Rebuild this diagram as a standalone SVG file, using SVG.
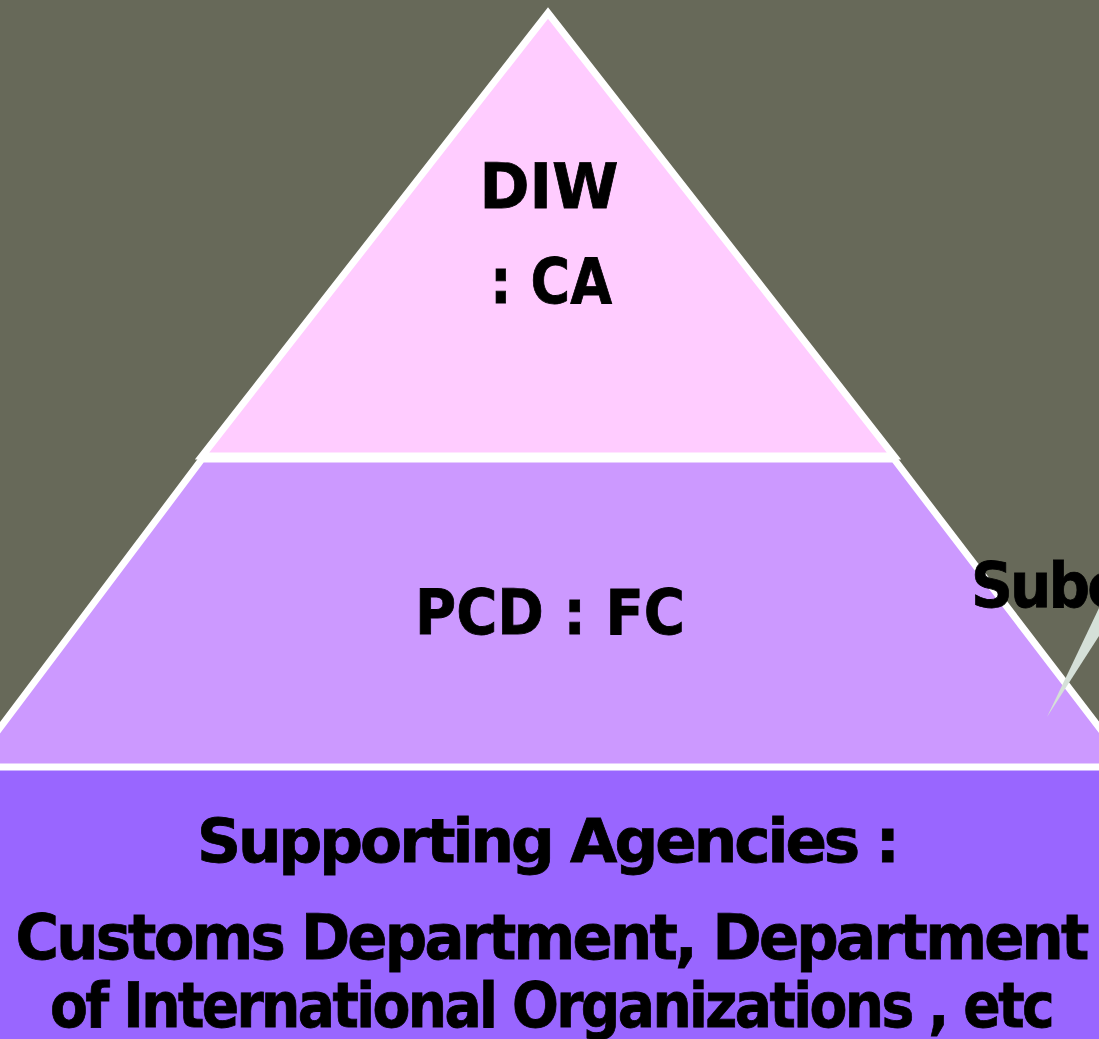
<svg xmlns="http://www.w3.org/2000/svg" width="1099" height="1039" viewBox="0 0 1099 1039">
<style>
.t{font-family:"DejaVu Sans","Verdana",sans-serif;font-weight:bold;fill:#000;stroke:#000;stroke-width:0.8;text-anchor:middle;}
.tight{letter-spacing:-3px;}
.edge{stroke:#fff;stroke-width:7;stroke-linejoin:miter;}
</style>
<rect width="1099" height="1039" fill="#676959"/>
<g id="middle">
<polygon class="edge" points="202,459 894,459 1140,781 -40,781" fill="#CC99FF"/>
</g>
<g id="top">
<polygon class="edge" points="548,13 894,456 202,456" fill="#FFCCFF"/>
<text class="t" x="549" y="208" font-size="63" textLength="139" lengthAdjust="spacingAndGlyphs">DIW</text>
<text class="t" x="551" y="303" font-size="63" textLength="122" lengthAdjust="spacingAndGlyphs">: CA</text>
</g>
<g id="middle-label">
<text class="t" x="550" y="634" font-size="63" textLength="270" lengthAdjust="spacingAndGlyphs">PCD : FC</text>
</g>
<g id="bottom">
<rect x="-10" y="767" width="1120" height="290" fill="#9966FF" stroke="#fff" stroke-width="7"/>
<text class="t tight" x="547" y="862" font-size="61" textLength="700" lengthAdjust="spacingAndGlyphs">Supporting Agencies :</text>
<text class="t tight" x="551" y="959" font-size="63" textLength="1071" lengthAdjust="spacingAndGlyphs">Customs Department, Department</text>
<text class="t tight" x="551" y="1027" font-size="63" textLength="1002" lengthAdjust="spacingAndGlyphs">of International Organizations , etc</text>
</g>
<g id="callout">
<polygon points="1047,717 1099,608 1099,636" fill="#D5E0D8"/>
<text class="t tight" x="971" y="607" font-size="62" textLength="148" lengthAdjust="spacingAndGlyphs" style="text-anchor:start">Subc</text>
</g>
</svg>
